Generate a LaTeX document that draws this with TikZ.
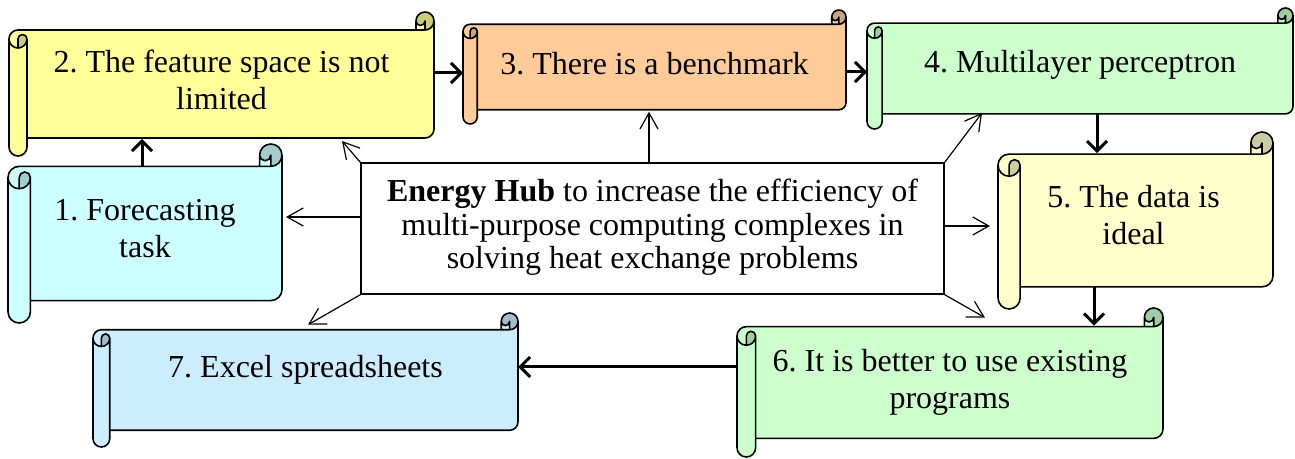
\documentclass[tikz,border=0pt]{standalone}
\usepackage{fontspec}
\setmainfont{Liberation Serif}
\frenchspacing
\usetikzlibrary{arrows.meta,calc,fit}
\definecolor{cOne}{HTML}{CCFFFF}
\definecolor{cTwo}{HTML}{FFFF99}
\definecolor{cThree}{HTML}{FFCC99}
\definecolor{cFour}{HTML}{CCFFCC}
\definecolor{cFive}{HTML}{FFFFCC}
\definecolor{cSix}{HTML}{CCFFCC}
\definecolor{cSeven}{HTML}{CCECFF}
% #1 left, #2 top, #3 right, #4 bottom (pixels, y down), #5 colour, #6 name
\newcommand\scrollshape[6]{%
  \pgfmathsetmacro\SCw{#3-#1}%
  \pgfmathsetmacro\SCh{#4-#2}%
  \pgfmathsetmacro\SCc{0.125*min(\SCw,\SCh)}%
  \pgfmathsetmacro\SCa{\SCc/2}%
  \pgfmathsetmacro\SCq{\SCc/4}%
  \pgfmathsetmacro\SCyc{\SCc+\SCa}%
  \pgfmathsetmacro\SCyd{2*\SCc}%
  \pgfmathsetmacro\SCyf{\SCh-\SCc}%
  \pgfmathsetmacro\SCyg{\SCh-\SCa}%
  \pgfmathsetmacro\SCye{\SCyf-\SCa}%
  \pgfmathsetmacro\SCxc{\SCw-\SCc}%
  \pgfmathsetmacro\SCxd{\SCw-\SCa}%
  \begin{scope}[shift={(#1,#2)}]
    \fill[#5] (\SCw,\SCa) arc[start angle=0,delta angle=90,radius=\SCa] -- (\SCxd,\SCa)
      arc[start angle=0,delta angle=180,radius=\SCq] -- (\SCxc,\SCc) -- (\SCa,\SCc)
      arc[start angle=270,delta angle=-90,radius=\SCa] -- (0,\SCyg)
      arc[start angle=180,delta angle=-180,radius=\SCa] -- (\SCc,\SCyf) -- (\SCxd,\SCyf)
      arc[start angle=90,delta angle=-90,radius=\SCa] -- cycle;
    \fill[#5!80!black] (\SCa,\SCyd) arc[start angle=90,delta angle=-90,radius=\SCa]
      arc[start angle=0,delta angle=-180,radius=\SCq] -- cycle;
    \fill[#5!80!black] (\SCxd,\SCc) arc[start angle=90,delta angle=-270,radius=\SCa]
      arc[start angle=180,delta angle=-180,radius=\SCq] -- cycle;
    \draw[scrollline] (0,\SCyc) arc[start angle=180,delta angle=90,radius=\SCa] -- (\SCxc,\SCc) -- (\SCxc,\SCa)
      arc[start angle=180,delta angle=180,radius=\SCa] -- (\SCw,\SCye)
      arc[start angle=0,delta angle=90,radius=\SCa] -- (\SCc,\SCyf) -- (\SCc,\SCyg)
      arc[start angle=0,delta angle=180,radius=\SCa] -- cycle
      (\SCxc,\SCc) -- (\SCxd,\SCc) arc[start angle=90,delta angle=-90,radius=\SCa]
      (\SCxd,\SCc) -- (\SCxd,\SCa) arc[start angle=0,delta angle=180,radius=\SCq]
      (\SCa,\SCyd) -- (\SCa,\SCyc) arc[start angle=180,delta angle=180,radius=\SCq]
      arc[start angle=0,delta angle=180,radius=\SCa]
      (\SCc,\SCyc) -- (\SCc,\SCyf);
    \coordinate (#6nw) at (0,\SCc);
    \coordinate (#6se) at (\SCw,\SCyf);
  \end{scope}
  \node[inner sep=0pt, outer sep=0pt, fit=(#6nw)(#6se)] (#6) {};
}
\begin{document}
\begin{tikzpicture}[x=0.5pt,y=-0.5pt,
  scrollline/.style={line width=0.8pt, line join=round},
  stext/.style={font=\fontsize{16}{18.5}\selectfont, align=center, inner sep=0pt},
  hubbox/.style={draw, line width=0.75pt, fill=white, align=center, inner sep=0pt,
    font=\fontsize{16}{15.25}\selectfont},
  thinarr/.style={line width=0.6pt, -{Straight Barb[length=8pt,width=9pt]}},
  thickarr/.style={line width=1.5pt, -{Straight Barb[length=5pt,width=10pt]}}]
\useasboundingbox (0,0) rectangle (1295,459);
\fill[white] (0,0) rectangle (1295,459);

\scrollshape{8}{144}{282}{323}{cOne}{s1}
\scrollshape{9}{12}{434}{156}{cTwo}{s2}
\scrollshape{463}{10}{846}{124}{cThree}{s3}
\scrollshape{867}{8}{1293}{129}{cFour}{s4}
\scrollshape{998}{132}{1273}{309}{cFive}{s5}
\scrollshape{737}{308}{1163}{457}{cSix}{s6}
\scrollshape{93}{313}{518}{447}{cSeven}{s7}

\node[stext] (t1) at ($(s1.center)+(0,-2)$) {\strut 1. Forecasting\\\strut task};
\node[stext] (t2) at (s2.center) {\strut 2. The feature space is not\\\strut limited};
\node[stext] (t3) at (s3.center) {\strut 3. There is a benchmark};
\node[stext] (t4) at ($(s4.center)+(0,-3.5)$) {\strut 4. Multilayer perceptron};
\node[stext] (t5) at ($(s5.center)+(-2,-2)$) {\strut 5. The data is\\\strut ideal};
\node[stext] (t6) at (s6.center) {\strut 6. It is better to use existing\\\strut programs};
\node[stext] (t7) at ($(s7.center)+(0,-10)$) {\strut 7. Excel spreadsheets};

\node[hubbox, minimum width=291.5pt, minimum height=65.5pt] (hub) at (652.5,228.5)
  {\strut\textbf{Energy Hub} to increase the efficiency of\\\strut multi-purpose computing complexes in\\\strut solving heat exchange problems};

% thin connectors from the hub
\draw[thinarr] ($(hub.west)+(0,-11.5)$) -- ($(hub.west -| s1.east)+(4,-11.5)$);
\draw[thinarr] (hub.north west) -- ($(s2.south west)+(333,3)$);
\draw[thinarr] ($(hub.north)+(-3.5,0)$) -- ($(hub.north |- s3.south)+(-3.5,2)$);
\draw[thinarr] (hub.north east) -- ($(s4.south west)+(115,-1)$);
\draw[thinarr] ($(hub.east)+(0,-2.5)$) -- ($(hub.east -| s5.west)+(-8,-2.5)$);
\draw[thinarr] (hub.south east) -- ($(s6.north west)+(248,-9)$);
\draw[thinarr] (hub.south west) -- ($(s7.north west)+(215,-5)$);

% thick chain
\draw[thickarr] ($(s1.north west)+(134,0)$) -- ($(s1.north west |- s2.south)+(134,1)$);
\draw[thickarr] ($(s2.east)+(0,-11)$) -- ($(s2.east -| s3.west)+(0,-11)$);
\draw[thickarr] ($(s3.east)+(0,5)$) -- ($(s3.east -| s4.west)+(0,5)$);
\draw[thickarr] ($(s4.south)+(17,0)$) -- ($(s4.south |- s5.north)+(17,-1)$);
\draw[thickarr] ($(s5.south)+(-41.5,0)$) -- ($(s5.south |- s6.north)+(-41.5,-1)$);
\draw[thickarr] ($(s6.west)+(0,-15.5)$) -- ($(s6.west -| s7.east)+(0,-15.5)$);
\end{tikzpicture}
\end{document}
